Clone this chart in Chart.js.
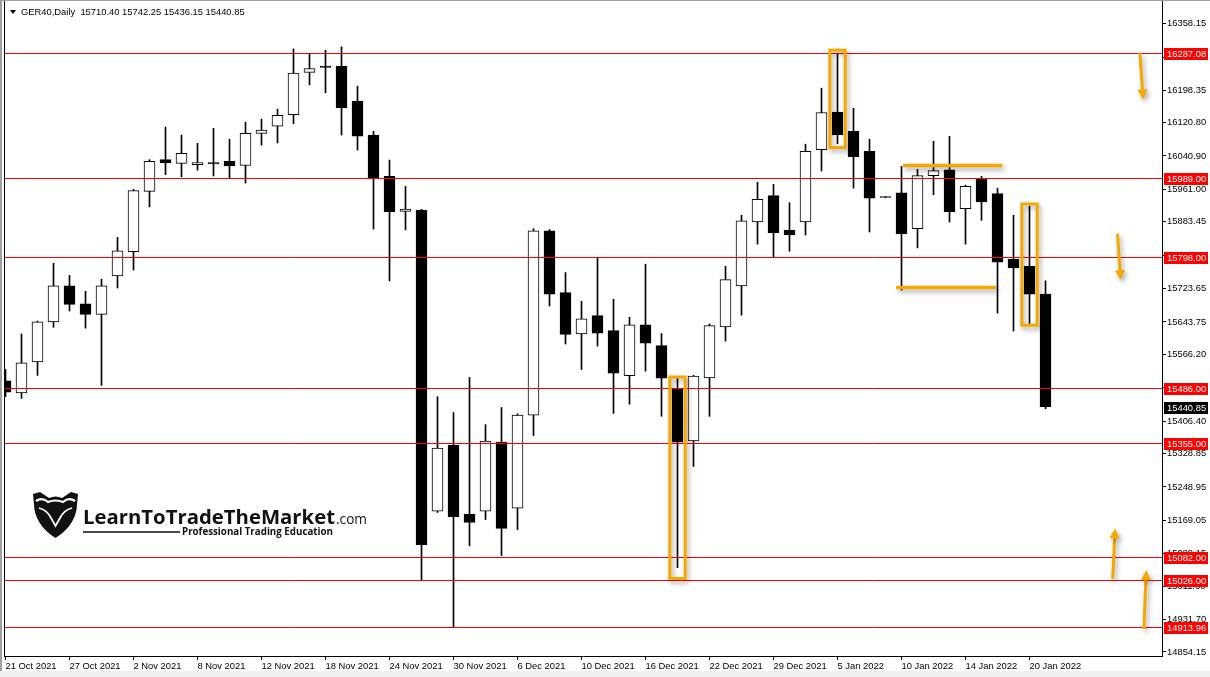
<!DOCTYPE html>
<html>
<head>
<meta charset="utf-8">
<title>GER40 Daily</title>
<script src="https://cdn.jsdelivr.net/npm/chart.js@4.4.1/dist/chart.umd.min.js"></script>
<style>
  html, body { margin: 0; padding: 0; background: #f0f0f0; }
  #wrap { position: relative; width: 1210px; height: 677px; overflow: hidden; }
  #chart { position: absolute; left: 0; top: 0; background: #fff; }
  #hdr { position: absolute; left: 8px; top: 6px; font: 9.4px "Liberation Sans", Arial, sans-serif; color: #000; white-space: pre; line-height: 11px; }
  #hdr .tri { display: inline-block; width: 0; height: 0; border-left: 3.5px solid transparent; border-right: 3.5px solid transparent; border-top: 4px solid #000; margin: 0 5px 1px 2px; vertical-align: middle; }
  #logo { position: absolute; left: 20px; top: 480px; }
</style>
</head>
<body>
<div id="wrap">
  <canvas id="chart" width="1210" height="671"></canvas>
  <div id="hdr"><span class="tri"></span>GER40,Daily  15710.40 15742.25 15436.15 15440.85</div>
  <svg id="logo" width="360" height="70" viewBox="0 0 360 70">
    <path d="M13,14 L20,12 L29,18 Q35.5,15 42,18 L51,12 L58,14 L56.5,30 Q53,47 35.5,58 Q18,47 14.5,30 Z" fill="#111"/>
    <path d="M16,21 Q22,17 28,22 Q35.5,19 43,22 Q49,17 55,21" fill="none" stroke="#fff" stroke-width="2.2"/>
    <path d="M19,28 Q27,30 31,38 L35.5,46 L40,38 Q44,30 52,28" fill="none" stroke="#fff" stroke-width="1.8"/>
    <text x="63" y="44" font-family="Open Sans, Lato, sans-serif" font-weight="700" font-size="20" fill="#111" textLength="252" lengthAdjust="spacingAndGlyphs">LearnToTradeTheMarket</text>
    <text x="316" y="44" font-family="Open Sans, Lato, sans-serif" font-size="14" fill="#111" textLength="31" lengthAdjust="spacingAndGlyphs">.com</text>
    <line x1="63" y1="52" x2="160" y2="52" stroke="#111" stroke-width="1.5"/>
    <text x="162" y="55" font-family="Open Sans, Lato, sans-serif" font-weight="700" font-size="10.5" fill="#111" textLength="151" lengthAdjust="spacingAndGlyphs">Professional Trading Education</text>
  </svg>
</div>

<script>
// OHLC, one entry per daily candle (21 Oct 2021 .. 21 Jan 2022)
const opens  = [15503, 15474, 15548, 15644, 15730, 15687, 15662, 15754, 15812, 15956,
                16032, 16023, 16020, 16025, 16028, 16018, 16095, 16112, 16140, 16241,
                16256, 16256, 16172, 16091, 15992, 15908, 15911, 15191, 15349, 15184,
                15191, 15356, 15198, 15421, 15862, 15714, 15615, 15659, 15623, 15515,
                15637, 15587, 15484, 15359, 15510, 15632, 15730, 15883, 15946, 15863,
                15883, 16056, 16146, 16100, 16052, 15942.5, 15953, 15867, 15994, 16008,
                15915, 15985, 15951, 15794, 15777, 15710.40];
const highs  = [15530, 15615, 15646, 15784, 15755, 15717, 15746, 15846, 15961, 16032,
                16110, 16091, 16071, 16107, 16081, 16122, 16129, 16153, 16297, 16285,
                16294, 16302, 16208, 16100, 16031, 15968, 15913, 15465, 15427, 15511,
                15398, 15439, 15424, 15867, 15865, 15762, 15693, 15797, 15698, 15655,
                15782, 15616, 15511, 15516, 15639, 15777, 15899, 15978, 15973, 15929,
                16069, 16203, 16286, 16155, 16081, 15943, 16016, 16009, 16076, 16088,
                15971, 15992, 15964, 15899, 15921, 15742.25];
const lows   = [15465, 15461, 15516, 15631, 15670, 15629, 15492, 15725, 15768, 15919,
                15996, 15991, 16007, 15993, 15988, 15976, 16067, 16072, 16118, 16211,
                16192, 16091, 16055, 15866, 15742, 15864, 15027, 15188, 14914, 15108,
                15171, 15085, 15147, 15372, 15682, 15591, 15530, 15586, 15425, 15447,
                15526, 15418, 15056, 15298, 15418, 15598, 15660, 15830, 15798, 15813,
                15852, 16005, 16070, 15964, 15859, 15941, 15720, 15821, 15948, 15883,
                15830, 15887, 15665, 15622, 15638, 15436.15];
const closes = [15476, 15546, 15644, 15730, 15686, 15662, 15730, 15814, 15958, 16028,
                16024, 16047, 16025, 16022, 16017, 16095, 16103, 16138, 16239, 16250,
                16253, 16156, 16088, 15988, 15907, 15914, 15111, 15342, 15178, 15164,
                15359, 15150, 15421, 15862, 15710, 15614, 15651, 15617, 15521, 15637,
                15593, 15509, 15356, 15514, 15635, 15745, 15886, 15937, 15857, 15852,
                16052, 16145, 16091, 16039, 15940, 15941.5, 15855, 15994, 16006, 15907,
                15968, 15931, 15787, 15773, 15710.40, 15440.85];

// time axis labels (every 4th bar)
const dateIdx    = [0, 4, 8, 12, 16, 20, 24, 28, 32, 36, 40, 44, 48, 52, 56, 60, 64];
const dateLabels = ['21 Oct 2021', '27 Oct 2021', '2 Nov 2021', '8 Nov 2021', '12 Nov 2021',
                    '18 Nov 2021', '24 Nov 2021', '30 Nov 2021', '6 Dec 2021', '10 Dec 2021',
                    '16 Dec 2021', '22 Dec 2021', '29 Dec 2021', '5 Jan 2022', '10 Jan 2022',
                    '14 Jan 2022', '20 Jan 2022'];

// price axis ticks
const yTicks = [16358.15, 16276.25, 16198.35, 16120.80, 16040.90, 15961.00, 15883.45, 15803.55,
                15723.65, 15643.75, 15566.20, 15486.30, 15406.40, 15328.85, 15248.95, 15169.05,
                15089.15, 15011.60, 14931.70, 14854.15];

// horizontal levels (red lines + red price tags)
const levels = [16287.08, 15989.00, 15798.00, 15486.00, 15355.00, 15082.00, 15026.00, 14913.96];
const lastPrice = 15440.85;

// hand-drawn notes: boxes round candles, flat lines, arrows
const noteBoxes  = [{ i: 52, hi: 16294, lo: 16061 }, { i: 42, hi: 15512, lo: 15030 }, { i: 64, hi: 15926, lo: 15636 }];
const noteLines  = [{ from: 56.1, to: 62.3, price: 16018 }, { from: 55.66, to: 61.9, price: 15726 }];
const noteArrows = [
  { x0: 70.9, p0: 16287, x1: 71.1, p1: 16176 },
  { x0: 69.5, p0: 15855, x1: 69.7, p1: 15744 },
  { x0: 69.2, p0: 15029, x1: 69.35, p1: 15150 },
  { x0: 71.15, p0: 14909, x1: 71.3, p1: 15050 }
];

const FONT = { family: 'Liberation Sans', size: 9.4 };
const ORANGE = '#f5a900';

const bodies = opens.map((o, i) => ({ x: i, y: [o, closes[i]] }));
const wicks  = lows.map((l, i) => ({ x: i, y: [l, highs[i]] }));
const bodyColors = opens.map((o, i) => closes[i] >= o ? '#ffffff' : '#000000');

function arrow(ctx, xa, ya, xb, yb) {
  const ang = Math.atan2(yb - ya, xb - xa);
  const hl = 10, hw = 5;
  const bx = xb - hl * Math.cos(ang), by = yb - hl * Math.sin(ang);
  ctx.beginPath();
  ctx.moveTo(xa, ya);
  ctx.lineTo(bx, by);
  ctx.stroke();
  ctx.beginPath();
  ctx.moveTo(xb, yb);
  ctx.lineTo(bx + hw * Math.sin(ang), by - hw * Math.cos(ang));
  ctx.lineTo(bx - hw * Math.sin(ang), by + hw * Math.cos(ang));
  ctx.closePath();
  ctx.fill();
}

const overlay = {
  id: 'overlay',
  afterDatasetsDraw(chart) {
    const { ctx, chartArea: a, scales: { x, y } } = chart;
    ctx.save();

    // red levels
    ctx.strokeStyle = '#ff0000';
    ctx.lineWidth = 1;
    levels.forEach(p => {
      const py = Math.round(y.getPixelForValue(p)) + 0.5;
      ctx.beginPath();
      ctx.moveTo(a.left, py);
      ctx.lineTo(a.right, py);
      ctx.stroke();
    });

    // orange notes with a soft shadow
    ctx.shadowColor = 'rgba(0,0,0,0.35)';
    ctx.shadowBlur = 5;
    ctx.shadowOffsetX = 2;
    ctx.shadowOffsetY = 3;
    ctx.strokeStyle = ORANGE;
    ctx.fillStyle = ORANGE;

    ctx.lineWidth = 3;
    noteBoxes.forEach(b => {
      const xc = x.getPixelForValue(b.i);
      const top = y.getPixelForValue(b.hi), bot = y.getPixelForValue(b.lo);
      ctx.strokeRect(xc - 7.7, top, 15.4, bot - top);
    });

    ctx.lineWidth = 3.5;
    noteLines.forEach(l => {
      const py = y.getPixelForValue(l.price);
      ctx.beginPath();
      ctx.moveTo(x.getPixelForValue(l.from), py);
      ctx.lineTo(x.getPixelForValue(l.to), py);
      ctx.stroke();
    });

    ctx.lineWidth = 3;
    noteArrows.forEach(r => {
      arrow(ctx, x.getPixelForValue(r.x0), y.getPixelForValue(r.p0),
                 x.getPixelForValue(r.x1), y.getPixelForValue(r.p1));
    });
    ctx.restore();
  },
  afterDraw(chart) {
    const { ctx, chartArea: a, scales: { y } } = chart;
    ctx.save();
    // window edge + left frame
    ctx.fillStyle = '#a0a0a0';
    ctx.fillRect(0, 0, 1210, 1);
    ctx.fillRect(0, 0, 2, chart.height);
    ctx.strokeStyle = '#000';
    ctx.lineWidth = 1;
    ctx.beginPath();
    ctx.moveTo(a.left + 0.5, 1);
    ctx.lineTo(a.left + 0.5, a.bottom + 1);
    ctx.stroke();

    // price tags on the axis
    ctx.font = FONT.size + 'px ' + FONT.family;
    ctx.textBaseline = 'middle';
    ctx.textAlign = 'left';
    const tag = (p, bg) => {
      const py = Math.round(y.getPixelForValue(p));
      ctx.fillStyle = bg;
      ctx.fillRect(a.right + 2, py - 5, 44, 12);
      ctx.fillStyle = '#fff';
      ctx.fillText(p.toFixed(2), a.right + 5, py + 1);
    };
    levels.forEach(p => tag(p, '#ff0000'));
    tag(lastPrice, '#000000');
    ctx.restore();
  }
};

new Chart(document.getElementById('chart'), {
  type: 'bar',
  data: {
    datasets: [
      {
        label: 'body', data: bodies, order: 1, grouped: false,
        barThickness: 11, minBarLength: 1, clip: 0,
        borderWidth: 1, borderSkipped: false, borderColor: '#000', backgroundColor: bodyColors
      },
      {
        label: 'wick', data: wicks, order: 2, grouped: false,
        barThickness: 1, minBarLength: 1, clip: 0,
        borderWidth: 0, backgroundColor: '#000'
      }
    ]
  },
  options: {
    responsive: false,
    animation: false,
    devicePixelRatio: 1,
    layout: { padding: { left: 4, top: 1, right: 0, bottom: 0 } },
    plugins: { legend: { display: false }, tooltip: { enabled: false } },
    scales: {
      x: {
        type: 'linear', min: -0.09375, max: 72.28125, offset: false,
        grid: { display: true, drawOnChartArea: false, drawTicks: true, tickLength: 4, color: '#000', offset: false },
        border: { display: true, color: '#000', width: 1 },
        ticks: {
          autoSkip: false, maxRotation: 0, align: 'start', padding: 1, color: '#000', font: FONT,
          callback: (v, i) => dateLabels[i]
        },
        afterBuildTicks: s => { s.ticks = dateIdx.map(v => ({ value: v })); },
        afterFit: s => { s.height = 15; s.paddingLeft = 0; s.paddingRight = 0; }
      },
      y: {
        position: 'right', min: 14844.5, max: 16411.69, beginAtZero: false,
        grid: { display: true, drawOnChartArea: false, drawTicks: true, tickLength: 4, color: '#000' },
        border: { display: true, color: '#000', width: 1 },
        ticks: {
          autoSkip: false, padding: 1, color: '#000', font: FONT,
          callback: v => v.toFixed(2)
        },
        afterBuildTicks: s => { s.ticks = yTicks.map(v => ({ value: v })); },
        afterFit: s => { s.width = 48; s.paddingTop = 0; s.paddingBottom = 0; }
      }
    }
  },
  plugins: [overlay]
});
</script>
</body>
</html>
